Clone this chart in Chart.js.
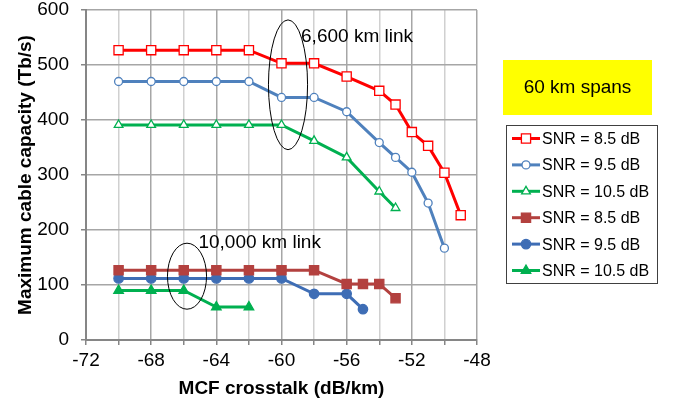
<!DOCTYPE html>
<html>
<head>
<meta charset="utf-8">
<script src="https://cdn.jsdelivr.net/npm/chart.js@4/dist/chart.umd.min.js"></script>
<style>
  html, body { margin: 0; padding: 0; background: #fff; }
  #wrap { width: 673px; height: 406px; }
</style>
</head>
<body>
<div id="wrap"><canvas id="myChart" width="673" height="406"></canvas></div>
<script>
// crosstalk values (dB/km) for each curve
const xRedOpen = [-70, -68, -66, -64, -62, -60, -58, -56, -54, -53, -52, -51, -50, -49];
const xBlueOpen = [-70, -68, -66, -64, -62, -60, -58, -56, -54, -53, -52, -51, -50];
const xGreenOpen = [-70, -68, -66, -64, -62, -60, -58, -56, -54, -53];
const xRedFilled = [-70, -68, -66, -64, -62, -60, -58, -56, -55, -54, -53];
const xBlueFilled = [-70, -68, -66, -64, -62, -60, -58, -56, -55];
const xGreenFilled = [-70, -68, -66, -64, -62];

// capacity (Tb/s), 6,600 km link
const capRedOpen = [527, 527, 527, 527, 527, 503, 503, 479, 453, 428, 378, 353, 304, 227];
const capBlueOpen = [470, 470, 470, 470, 470, 441, 441, 415, 359, 332, 305, 249, 167];
const capGreenOpen = [391, 391, 391, 391, 391, 391, 362, 332, 270, 240];
// capacity (Tb/s), 10,000 km link
const capRedFilled = [127, 127, 127, 127, 127, 127, 127, 102, 102, 102, 76];
const capBlueFilled = [112, 112, 112, 112, 112, 112, 84, 84, 56];
const capGreenFilled = [90, 90, 90, 60, 60];

const seriesLabels = ["SNR = 8.5 dB", "SNR = 9.5 dB", "SNR = 10.5 dB",
                      "SNR = 8.5 dB", "SNR = 9.5 dB", "SNR = 10.5 dB"];

const xTicks = [-72, -68, -64, -60, -56, -52, -48];
const yTicks = [0, 100, 200, 300, 400, 500, 600];

// ellipses around the two groups of curves: centre x, centre y, half-width, half-height (data units)
const ellipses = [
  [-59.6, 464, 1.2, 118],
  [-65.8, 116, 1.2, 60]
];
const notes = [
  { text: "6,600 km link", x: -58.8, y: 551 },
  { text: "10,000 km link", x: -65.1, y: 176 }
];

const FONT = "'Liberation Sans', Arial, sans-serif";

function pts(xs, ys) {
  return xs.map((x, i) => ({ x: x, y: ys[i] }));
}

const styles = [
  { color: "#FF0000", fill: "#FFFFFF", pointStyle: "rect", radius: 6.5, width: 3 },
  { color: "#4F81BD", fill: "#FFFFFF", pointStyle: "circle", radius: 4, width: 3 },
  { color: "#00B050", fill: "#FFFFFF", pointStyle: "triangle", radius: 5, width: 3 },
  { color: "#B3413F", fill: "#B3413F", pointStyle: "rect", radius: 6.5, width: 3 },
  { color: "#3E6DB5", fill: "#3E6DB5", pointStyle: "circle", radius: 4.7, width: 3 },
  { color: "#00B050", fill: "#00B050", pointStyle: "triangle", radius: 5.5, width: 3 }
];

const seriesData = [
  pts(xRedOpen, capRedOpen),
  pts(xBlueOpen, capBlueOpen),
  pts(xGreenOpen, capGreenOpen),
  pts(xRedFilled, capRedFilled),
  pts(xBlueFilled, capBlueFilled),
  pts(xGreenFilled, capGreenFilled)
];

const datasets = seriesData.map((d, i) => ({
  label: seriesLabels[i],
  data: d,
  showLine: true,
  borderColor: styles[i].color,
  backgroundColor: styles[i].fill,
  borderWidth: styles[i].width,
  pointStyle: styles[i].pointStyle,
  pointRadius: styles[i].radius,
  pointBorderWidth: 1.3,
  pointBorderColor: styles[i].color,
  pointBackgroundColor: styles[i].fill,
  tension: 0
}));

// draws ellipses, link labels, the "60 km spans" box and the boxed legend
const extras = {
  id: "extras",
  afterDatasetsDraw(chart) {
    const ctx = chart.ctx;
    const xs = chart.scales.x;
    const ys = chart.scales.y;
    ctx.save();
    ctx.strokeStyle = "#000";
    ctx.lineWidth = 1;
    ellipses.forEach(([cx, cy, rx, ry]) => {
      const px = xs.getPixelForValue(cx);
      const py = ys.getPixelForValue(cy);
      const prx = Math.abs(xs.getPixelForValue(cx + rx) - px);
      const pry = Math.abs(ys.getPixelForValue(cy + ry) - py);
      ctx.beginPath();
      ctx.ellipse(px, py, prx, pry, 0, 0, Math.PI * 2);
      ctx.stroke();
    });
    ctx.fillStyle = "#000";
    ctx.font = "19px " + FONT;
    ctx.textBaseline = "middle";
    ctx.textAlign = "left";
    notes.forEach((n) => {
      ctx.fillText(n.text, xs.getPixelForValue(n.x), ys.getPixelForValue(n.y));
    });

    // yellow title box
    ctx.fillStyle = "#FFFF00";
    ctx.fillRect(503, 60, 149, 55);
    ctx.fillStyle = "#000";
    ctx.textAlign = "center";
    ctx.fillText("60 km spans", 577.5, 88);

    // legend
    ctx.strokeStyle = "#404040";
    ctx.lineWidth = 1;
    ctx.strokeRect(506.5, 125.5, 151, 158);
    ctx.font = "16px " + FONT;
    ctx.textAlign = "left";
    chart.data.datasets.forEach((ds, i) => {
      const y = 138.5 + i * 26.4;
      ctx.strokeStyle = ds.borderColor;
      ctx.lineWidth = ds.borderWidth;
      ctx.beginPath();
      ctx.moveTo(512, y);
      ctx.lineTo(540, y);
      ctx.stroke();
      ctx.fillStyle = ds.pointBackgroundColor;
      ctx.lineWidth = ds.pointBorderWidth;
      Chart.helpers.drawPoint(ctx, {
        pointStyle: ds.pointStyle,
        radius: ds.pointRadius,
        rotation: 0,
        borderWidth: ds.pointBorderWidth
      }, 526, y);
      ctx.fillStyle = "#000";
      ctx.fillText(ds.label, 542, y + 1);
    });
    ctx.restore();
  }
};

function setup() {
  const ctx = document.getElementById("myChart").getContext("2d");
  new Chart(ctx, {
    type: "scatter",
    data: { datasets: datasets },
    options: {
      responsive: false,
      animation: false,
      layout: { padding: { left: 0, right: 196, top: 10, bottom: 0 } },
      plugins: { legend: { display: false }, tooltip: { enabled: false } },
      scales: {
        x: {
          type: "linear",
          min: -72,
          max: -48,
          afterBuildTicks(scale) {
            scale.ticks = [];
            for (let v = -72; v <= -48; v += 2) scale.ticks.push({ value: v });
          },
          afterFit(scale) { scale.height = 66; },
          ticks: {
            color: "#000",
            font: { family: FONT, size: 19 },
            padding: 4,
            maxRotation: 0,
            autoSkip: false,
            callback: (v) => (xTicks.includes(v) ? String(v) : "")
          },
          grid: {
            color: (c) => (xTicks.includes(c.tick.value) ? "#A6A6A6" : "#D0D0D0"),
            lineWidth: 1.5,
            tickLength: 5,
            tickColor: "#868686"
          },
          border: { color: "#868686", width: 2 },
          title: {
            display: true,
            text: "MCF crosstalk (dB/km)",
            color: "#000",
            font: { family: FONT, size: 19, weight: "bold" },
            padding: { top: 2, bottom: 6 }
          }
        },
        y: {
          min: 0,
          max: 600,
          afterBuildTicks(scale) {
            scale.ticks = yTicks.map((v) => ({ value: v }));
          },
          afterFit(scale) {
            scale.width = 86;
            scale.paddingTop = 0;
            scale.paddingBottom = 0;
          },
          ticks: {
            color: "#000",
            font: { family: FONT, size: 19 },
            padding: 12
          },
          grid: {
            color: "#A6A6A6",
            lineWidth: 1.5,
            tickLength: 5,
            tickColor: "#868686"
          },
          border: { color: "#868686", width: 2 },
          title: {
            display: true,
            text: "Maximum cable capacity (Tb/s)",
            color: "#000",
            font: { family: FONT, size: 19, weight: "bold" },
            padding: { top: 14, bottom: 0 }
          }
        }
      }
    },
    plugins: [extras]
  });
}

window.addEventListener("load", setup);
</script>
</body>
</html>
